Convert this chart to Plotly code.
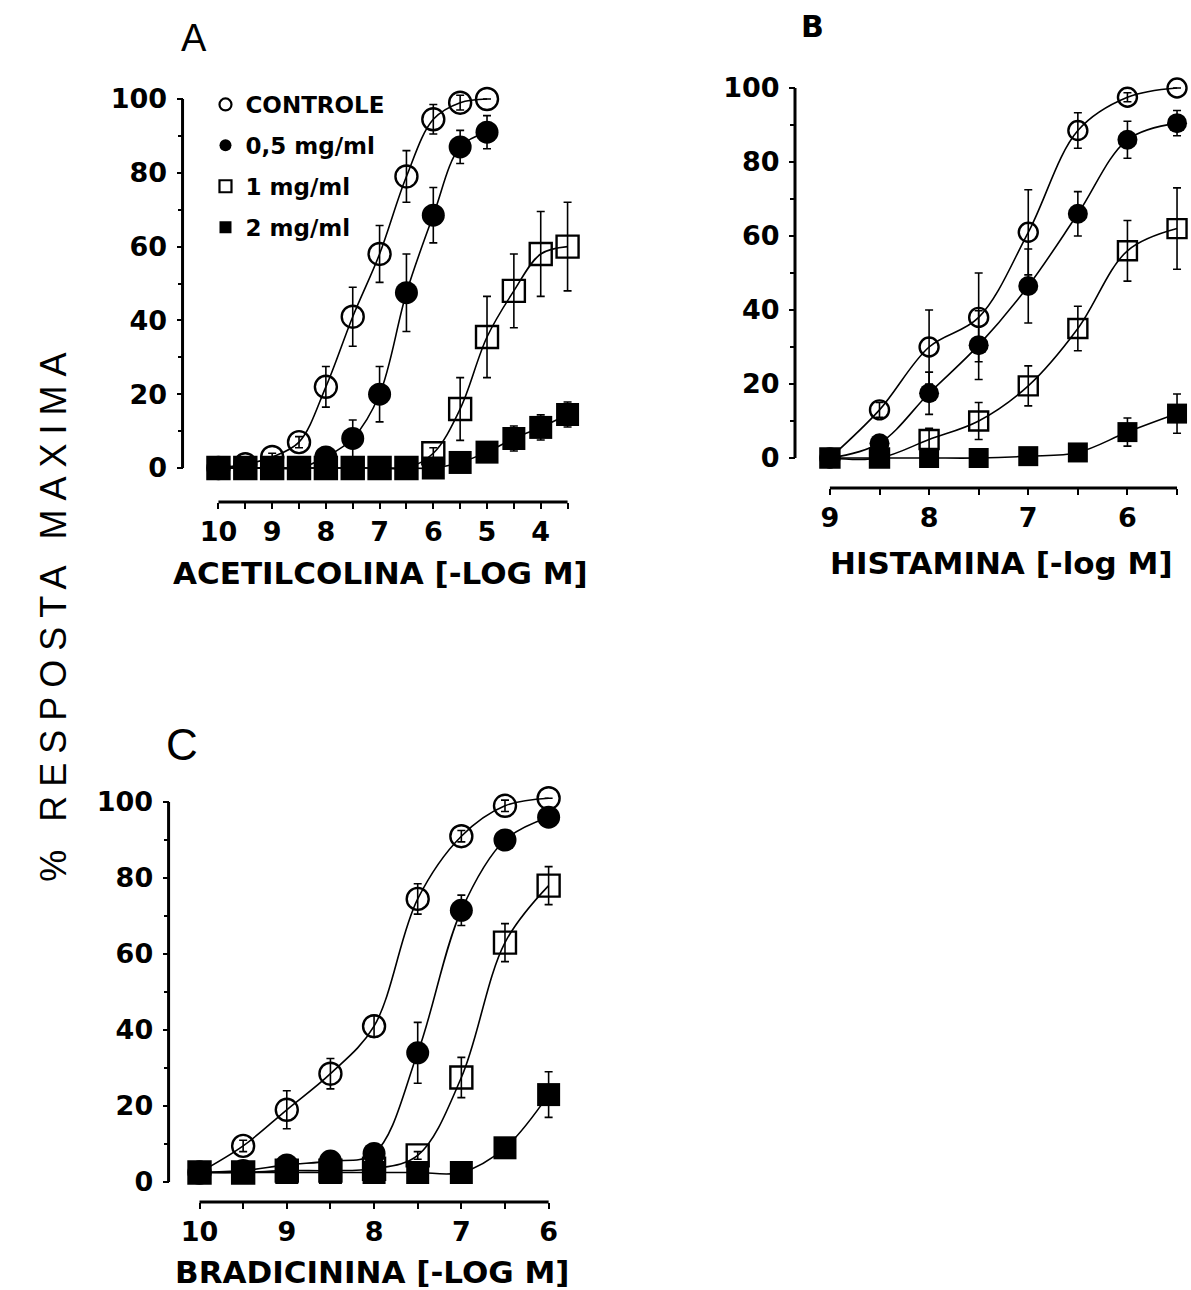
import plotly.graph_objects as go

W, H = 1191, 1290

# ---------------- data ----------------
series_names = ["CONTROLE", "0,5 mg/ml", "1 mg/ml", "2 mg/ml"]

# Panel A - Acetilcolina
x_a = [10, 9.5, 9, 8.5, 8, 7.5, 7, 6.5, 6, 5.5, 5, 4.5, 4, 3.5]
ctrl_a = [0, 1, 3, 7, 22, 41, 58, 79, 94.5, 99, 100]
ctrl_a_err = [0, 0.8, 1, 1.5, 5.5, 8, 7.7, 7, 4, 2, 0]
half_a = [0, 0, 0, 0, 3, 8, 20, 47.5, 68.5, 87, 91]
half_a_err = [0, 0, 0, 0, 1, 5, 7.5, 10.5, 7.5, 4.5, 4.5]
one_a = [0, 0, 0, 0, 0, 0, 0, 0, 4, 16, 35.5, 48, 58, 60]
one_a_err = [0, 0, 0, 0, 0, 0, 0, 0, 1.5, 8.5, 11, 10, 11.5, 12]
two_a = [0, 0, 0, 0, 0, 0, 0, 0, 0, 1.5, 4.3, 8, 11, 14.5]
two_a_err = [0, 0, 0, 0, 0, 0, 0, 0, 0, 0.5, 1.5, 3.4, 3.4, 3.4]

# Panel B - Histamina
x_b = [9, 8.5, 8, 7.5, 7, 6.5, 6, 5.5]
ctrl_b = [0, 13, 30, 38, 61, 88.5, 97.5, 100]
ctrl_b_err = [0, 2, 10, 12, 11.5, 4.8, 1.2, 0]
half_b = [0, 4, 17.5, 30.5, 46.5, 66, 86, 90.5]
half_b_err = [0, 1, 5.7, 9.3, 10, 6, 5, 3.4]
one_b = [0, 0, 5, 10, 19.5, 35, 56, 62]
one_b_err = [0, 0, 3, 5, 5.4, 6, 8.2, 11]
two_b = [0, 0, 0, 0, 0.5, 1.5, 7, 12]
two_b_err = [0, 0, 0, 0, 0, 0.5, 3.8, 5.3]

# Panel C - Bradicinina
x_c = [10, 9.5, 9, 8.5, 8, 7.5, 7, 6.5, 6]
ctrl_c = [2.5, 9.5, 19, 28.5, 41, 74.5, 91, 99, 101]
ctrl_c_err = [0, 1.5, 5, 4, 2.8, 4, 1.5, 1.5, 0]
half_c = [2.5, 3, 4.5, 5.5, 7.5, 34, 71.5, 90, 96]
half_c_err = [0, 0, 0, 0, 0.5, 8, 4, 2, 2]
one_c = [2.5, 2.5, 3, 3, 3.5, 7, 27.5, 63, 78]
one_c_err = [0, 0, 0, 0, 0, 1, 5.3, 5, 5]
two_c = [2.5, 2.5, 2.5, 2.5, 2.5, 2.5, 2.5, 9, 23]
two_c_err = [0, 0, 0, 0, 0, 0, 0, 1, 6]

y_ticks = [0, 20, 40, 60, 80, 100]

# ---------------- styling ----------------
symbols = ["circle-open", "circle", "square-open", "square"]
BOLD = "DejaVu Sans"

fig = go.Figure()
shapes = []
annotations = []


def panel(idx, xs, ys_list, errs_list, xv0, xv1, xp0, xp1, yp0, yp100,
          yline_px, xline_px, msize, major_ticks, xpad):
    xn = "x" if idx == 1 else f"x{idx}"
    yn = "y" if idx == 1 else f"y{idx}"
    xl = "xaxis" if idx == 1 else f"xaxis{idx}"
    yl = "yaxis" if idx == 1 else f"yaxis{idx}"
    ppu_x = (xp1 - xp0) / (xv0 - xv1)
    ppu_y = (yp0 - yp100) / 100.0
    ylo, yhi = -5, 106
    dom_x = [(xp0 - xpad * ppu_x) / W, (xp1 + xpad * ppu_x) / W]
    dom_y = [1 - (yp0 - ylo * ppu_y) / H, 1 - (yp100 - (yhi - 100) * ppu_y) / H]

    for k, (ys, es) in enumerate(zip(ys_list, errs_list)):
        filled = k in (1, 3)
        fig.add_trace(go.Scatter(
            x=xs[:len(ys)], y=ys, mode="lines+markers",
            xaxis=xn, yaxis=yn, showlegend=False, cliponaxis=False,
            line=dict(color="black", width=1.6, shape="spline", smoothing=1.0),
            marker=dict(symbol=symbols[k], size=(msize + 1 if filled else msize),
                        color="black",
                        line=dict(color="black", width=(0 if filled else 2.4))),
            error_y=dict(type="data", array=es, visible=True, color="black",
                         thickness=1.6, width=4),
        ))

    tfont = dict(family=BOLD, size=27, color="black", weight="bold")
    fig.update_layout(**{
        xl: dict(domain=dom_x, range=[xv0 + xpad, xv1 - xpad], anchor="free",
                 position=1 - xline_px / H, showline=False, showgrid=False,
                 zeroline=False, ticks="outside", ticklen=6, tickwidth=2,
                 tickcolor="black", tickmode="array", tickvals=major_ticks,
                 ticktext=[str(t) for t in major_ticks],
                 tickfont=tfont, ticklabelstandoff=0,
                 minor=dict(dtick=0.5, tick0=0, ticks="outside", ticklen=6,
                            tickwidth=2, tickcolor="black", showgrid=False)),
        yl: dict(domain=dom_y, range=[ylo, yhi], anchor="free",
                 position=yline_px / W, showline=False, showgrid=False,
                 zeroline=False, ticks="outside", ticklen=6, tickwidth=2,
                 tickcolor="black", tickmode="array", tickvals=y_ticks,
                 ticktext=[str(t) for t in y_ticks],
                 tickfont=tfont, ticklabelstandoff=4,
                 minor=dict(dtick=10, tick0=0, ticks="outside", ticklen=5,
                            tickwidth=2, tickcolor="black", showgrid=False)),
    })
    shapes.append(dict(type="line", xref="paper", yref=yn,
                       x0=yline_px / W, x1=yline_px / W, y0=0, y1=100,
                       line=dict(color="black", width=3)))
    shapes.append(dict(type="line", xref=xn, yref="paper",
                       x0=xv0, x1=xv1, y0=1 - xline_px / H, y1=1 - xline_px / H,
                       line=dict(color="black", width=3)))


panel(1, x_a, [ctrl_a, half_a, one_a, two_a],
      [ctrl_a_err, half_a_err, one_a_err, two_a_err],
      10, 3.5, 216, 566, 468, 99, 180, 502, 22, [10, 9, 8, 7, 6, 5, 4], 0.3)
panel(2, x_b, [ctrl_b, half_b, one_b, two_b],
      [ctrl_b_err, half_b_err, one_b_err, two_b_err],
      9, 5.5, 829, 1177, 458, 88, 794, 488, 19, [9, 8, 7, 6], 0.1)
panel(3, x_c, [ctrl_c, half_c, one_c, two_c],
      [ctrl_c_err, half_c_err, one_c_err, two_c_err],
      10, 6, 197, 547, 1182, 802, 166, 1202, 22, [10, 9, 8, 7, 6], 0.25)

# legend entries (marker only)
for k, name in enumerate(series_names):
    fig.add_trace(go.Scatter(
        x=[None], y=[None], mode="markers", name=name, xaxis="x", yaxis="y",
        legendgroup=f"g{k}", showlegend=True,
        marker=dict(symbol=symbols[k], size=12, color="black",
                    line=dict(color="black", width=(0 if k in (1, 3) else 2.2))),
    ))


def ann(text, xp, yp, size, family, bold=False, angle=0):
    annotations.append(dict(
        text=(f"<b>{text}</b>" if bold else text), x=xp / W, y=1 - yp / H,
        xref="paper", yref="paper", showarrow=False, xanchor="center",
        yanchor="middle", textangle=angle,
        font=dict(family=family, size=size, color="black")))


ann("A", 191, 38, 38, "Liberation Sans")
ann("B", 812, 26, 30, BOLD, bold=True)
ann("C", 179, 744, 44, "Liberation Sans")
ann("ACETILCOLINA [-LOG M]", 378, 573, 31, BOLD, bold=True)
ann("HISTAMINA [-log M]", 1001, 563, 31, BOLD, bold=True)
ann("BRADICININA [-LOG M]", 370, 1272, 31, BOLD, bold=True)
ann('<span style="letter-spacing:9px">% RESPOSTA MAXIMA</span>', 50, 613, 36,
    "Liberation Sans", angle=-90)

fig.update_layout(
    width=W, height=H, margin=dict(l=0, r=0, t=0, b=0),
    paper_bgcolor="white", plot_bgcolor="rgba(0,0,0,0)",
    shapes=shapes, annotations=annotations,
    legend=dict(x=203 / W, y=1 - 83 / H, xanchor="left", yanchor="top",
                font=dict(family=BOLD, size=23, color="black", weight="bold"),
                bgcolor="rgba(0,0,0,0)", tracegroupgap=8,
                traceorder="grouped", itemsizing="trace"),
)

fig.write_html("out.html")
